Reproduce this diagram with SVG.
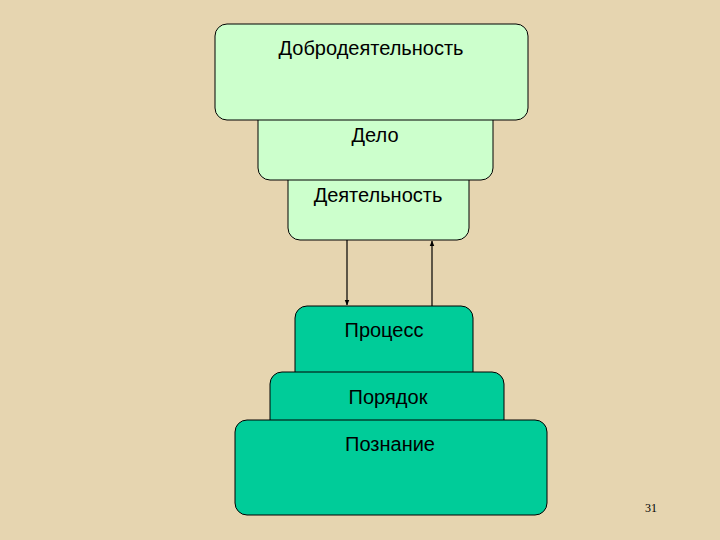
<svg xmlns="http://www.w3.org/2000/svg" width="720" height="540" viewBox="0 0 720 540">
<style>
.lg{fill:#ccffcc;stroke:#000;stroke-width:1}
.dg{fill:#00cc99;stroke:#000;stroke-width:1}
text{font-family:"Liberation Sans",Arial,sans-serif;font-size:20px;fill:#000;text-anchor:middle}
</style>
<defs>
<marker id="ah" viewBox="0 0 10 10" refX="9" refY="5" markerWidth="5" markerHeight="5" orient="auto"><path d="M0,1 L10,5 L0,9 z" fill="#000"/></marker>
</defs>
<rect width="720" height="540" fill="#e6d5b0"/>
<g id="n3"><rect class="lg" x="288" y="160" width="181" height="80" rx="12"/><text x="378" y="202">Деятельность</text></g>
<g id="n2"><rect class="lg" x="258" y="100" width="235" height="80" rx="12"/><text x="375" y="142">Дело</text></g>
<g id="n1"><rect class="lg" x="215" y="24" width="313" height="96" rx="12"/><text x="371" y="55">Добродеятельность</text></g>
<g id="n4"><rect class="dg" x="295" y="306" width="178" height="80" rx="12"/><text x="384" y="337">Процесс</text></g>
<g id="n5"><rect class="dg" x="270" y="372" width="234" height="60" rx="12"/><text x="388" y="404">Порядок</text></g>
<g id="n6"><rect class="dg" x="235" y="420" width="312" height="95" rx="12"/><text x="390" y="451">Познание</text></g>
<g id="connectors" stroke="#000" stroke-width="1.2">
<line x1="347" y1="240" x2="347" y2="305" marker-end="url(#ah)"/>
<line x1="432" y1="306" x2="432" y2="241" marker-end="url(#ah)"/>
</g>
<text x="651" y="512" style="font-family:'Liberation Serif',serif;font-size:12px">31</text>
</svg>
